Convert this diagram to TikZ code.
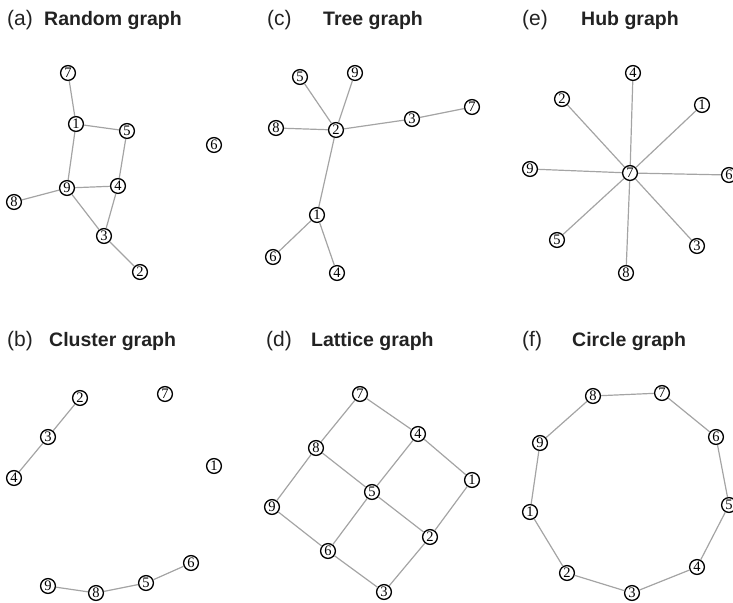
\documentclass[tikz,border=0pt]{standalone}
\usepackage{fontspec}
\setmainfont{Liberation Serif}
\setsansfont{Liberation Sans}
\definecolor{edgegray}{HTML}{A4A4A4}
\definecolor{titleink}{HTML}{222222}
\tikzset{
  vtx/.style={circle, draw=black, line width=1.3pt, fill=white, minimum size=14.8pt,
              inner sep=0pt, font=\fontsize{14.5}{14.5}\selectfont},
  edge/.style={draw=edgegray, line width=1.2pt},
  tag/.style={anchor=base west, inner sep=0pt, text=titleink,
              font=\sffamily\fontsize{21}{21}\selectfont},
  ttl/.style={anchor=base west, inner sep=0pt, text=titleink,
              font=\sffamily\bfseries\fontsize{19.5}{19.5}\selectfont}
}
\begin{document}
\begin{tikzpicture}[x=1pt, y=-1pt]
\useasboundingbox (0,0) rectangle (733,602);

% ---------- titles ----------
\node[tag] (ta) at (7,26) {(a)};   \node[ttl] (tta) at (44,26) {Random graph};
\node[tag] (tc) at (267,26) {(c)}; \node[ttl] (ttc) at (323,26) {Tree graph};
\node[tag] (te) at (522,26) {(e)}; \node[ttl] (tte) at (581,26) {Hub graph};
\node[tag] (tb) at (7,346) {(b)};  \node[ttl] (ttb) at (49,346) {Cluster graph};
\node[tag] (td) at (266,346) {(d)};\node[ttl] (ttd) at (311,346) {Lattice graph};
\node[tag] (tf) at (522,346) {(f)};\node[ttl] (ttf) at (572,346) {Circle graph};

% ---------- (a) random graph ----------
\node[vtx] (a7) at (68,73) {7};
\node[vtx] (a1) at (76,124) {1};
\node[vtx] (a5) at (127,131) {5};
\node[vtx] (a6) at (214,145) {6};
\node[vtx] (a9) at (67,188) {9};
\node[vtx] (a4) at (118,186) {4};
\node[vtx] (a8) at (14,202) {8};
\node[vtx] (a3) at (104,236) {3};
\node[vtx] (a2) at (140,272) {2};
\path[edge] (a7)--(a1) (a1)--(a5) (a1)--(a9) (a5)--(a4) (a9)--(a4)
            (a9)--(a8) (a9)--(a3) (a4)--(a3) (a3)--(a2);

% ---------- (c) tree graph ----------
\node[vtx] (c5) at (300,77) {5};
\node[vtx] (c9) at (355,73) {9};
\node[vtx] (c7) at (472,107) {7};
\node[vtx] (c3) at (412,119) {3};
\node[vtx] (c8) at (276,128) {8};
\node[vtx] (c2) at (336,130) {2};
\node[vtx] (c1) at (317,215) {1};
\node[vtx] (c6) at (273,257) {6};
\node[vtx] (c4) at (337,273) {4};
\path[edge] (c2)--(c5) (c2)--(c9) (c2)--(c8) (c2)--(c3) (c3)--(c7)
            (c2)--(c1) (c1)--(c6) (c1)--(c4);

% ---------- (e) hub graph ----------
\node[vtx] (e7) at (630,173) {7};
\node[vtx] (e4) at (633,73) {4};
\node[vtx] (e2) at (562,99) {2};
\node[vtx] (e1) at (702,105) {1};
\node[vtx] (e9) at (530,169) {9};
\node[vtx] (e6) at (729,175) {6};
\node[vtx] (e5) at (557,240) {5};
\node[vtx] (e3) at (697,246) {3};
\node[vtx] (e8) at (626,273) {8};
\foreach \v in {4,2,1,9,6,5,3,8} \path[edge] (e7)--(e\v);

% ---------- (b) cluster graph ----------
\node[vtx] (b2) at (80,398) {2};
\node[vtx] (b7) at (165,394) {7};
\node[vtx] (b3) at (48,437) {3};
\node[vtx] (b1) at (214,466) {1};
\node[vtx] (b4) at (14,478) {4};
\node[vtx] (b6) at (191,563) {6};
\node[vtx] (b5) at (146,583) {5};
\node[vtx] (b9) at (48,586) {9};
\node[vtx] (b8) at (96,593) {8};
\path[edge] (b2)--(b3) (b3)--(b4) (b9)--(b8) (b8)--(b5) (b5)--(b6);

% ---------- (d) lattice graph ----------
\node[vtx] (d7) at (360,394) {7};
\node[vtx] (d4) at (418,434) {4};
\node[vtx] (d8) at (316,448) {8};
\node[vtx] (d1) at (472,480) {1};
\node[vtx] (d5) at (372,492) {5};
\node[vtx] (d9) at (272,507) {9};
\node[vtx] (d2) at (430,537) {2};
\node[vtx] (d6) at (328,551) {6};
\node[vtx] (d3) at (384,592) {3};
\path[edge] (d7)--(d8) (d7)--(d4) (d8)--(d5) (d8)--(d9) (d4)--(d5) (d4)--(d1)
            (d5)--(d6) (d5)--(d2) (d9)--(d6) (d1)--(d2) (d6)--(d3) (d2)--(d3);

% ---------- (f) circle graph ----------
\node[vtx] (f8) at (593,396) {8};
\node[vtx] (f7) at (662,393) {7};
\node[vtx] (f6) at (716,437) {6};
\node[vtx] (f5) at (729,505) {5};
\node[vtx] (f4) at (697,567) {4};
\node[vtx] (f3) at (632,593) {3};
\node[vtx] (f2) at (567,573) {2};
\node[vtx] (f1) at (530,512) {1};
\node[vtx] (f9) at (540,443) {9};
\path[edge] (f8)--(f7) (f7)--(f6) (f6)--(f5) (f5)--(f4) (f4)--(f3)
            (f3)--(f2) (f2)--(f1) (f1)--(f9) (f9)--(f8);
\end{tikzpicture}
\end{document}
